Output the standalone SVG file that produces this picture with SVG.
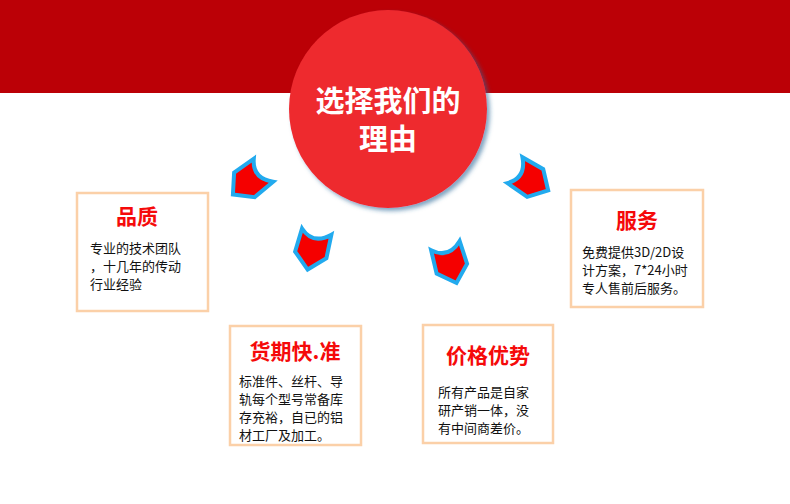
<svg xmlns="http://www.w3.org/2000/svg" width="790" height="504" viewBox="0 0 790 504">
<style>
.box{fill:#fff;stroke:#fbd0a8;stroke-width:2.5}
.ttl{font-family:"Noto Sans CJK SC","Liberation Sans",sans-serif;font-size:21px;font-weight:bold;fill:#f50a0a}
.body{font-family:"Noto Sans CJK SC","Liberation Sans",sans-serif;font-size:13px;fill:#111}
.sh{fill:#f50000;stroke:#22aaee;stroke-width:4;stroke-linejoin:miter}
</style>
<defs>
<path id="shield" d="M-14,-18 Q0,-4 16,-18 L16,6 L0,21 L-16,6 Z"/>
<filter id="ds" x="-20%" y="-20%" width="140%" height="140%"><feDropShadow dx="3" dy="3" stdDeviation="2" flood-color="#2a6a9a" flood-opacity="0.6"/></filter>
</defs>
<rect x="0" y="0" width="790" height="504" fill="#fff"/>
<rect x="0" y="0" width="790" height="93" fill="#bb0006"/>
<g id="center">
<circle cx="388" cy="109" r="99" fill="#ee2a2e" filter="url(#ds)"/>
<text x="388" y="112" text-anchor="middle" font-family="Noto Sans CJK SC,sans-serif" font-size="29" font-weight="bold" fill="#fff">选择我们的</text>
<text x="388" y="150" text-anchor="middle" font-family="Noto Sans CJK SC,sans-serif" font-size="29" font-weight="bold" fill="#fff">理由</text>
</g>
<g id="connectors">
<use href="#shield" class="sh" transform="translate(249,181) rotate(50)"/>
<use href="#shield" class="sh" transform="translate(312,249) rotate(12)"/>
<use href="#shield" class="sh" transform="translate(450,263) rotate(-18)"/>
<use href="#shield" class="sh" transform="translate(530,180) rotate(-60)"/>
</g>
<g id="n1">
<rect class="box" x="77" y="193" width="131" height="118"/>
<text class="ttl" x="137" y="224" text-anchor="middle">品质</text>
<text class="body" x="90" y="253">专业的技术团队</text>
<text class="body" x="90" y="271">，十几年的传动</text>
<text class="body" x="90" y="289">行业经验</text>
</g>
<g id="n2">
<rect class="box" x="230" y="326" width="131" height="119"/>
<text class="ttl" x="295" y="359" text-anchor="middle">货期快.准</text>
<text class="body" x="239" y="386">标准件、丝杆、导</text>
<text class="body" x="239" y="404">轨每个型号常备库</text>
<text class="body" x="239" y="422">存充裕，自已的铝</text>
<text class="body" x="239" y="440">材工厂及加工。</text>
</g>
<g id="n3">
<rect class="box" x="423" y="325" width="130" height="118"/>
<text class="ttl" x="488" y="363" text-anchor="middle">价格优势</text>
<text class="body" x="438" y="397">所有产品是自家</text>
<text class="body" x="438" y="415">研产销一体，没</text>
<text class="body" x="438" y="433">有中间商差价。</text>
</g>
<g id="n4">
<rect class="box" x="571" y="190" width="132" height="117"/>
<text class="ttl" x="637" y="228" text-anchor="middle">服务</text>
<text class="body" x="582" y="257">免费提供3D/2D设</text>
<text class="body" x="582" y="275">计方案，7*24小时</text>
<text class="body" x="582" y="293">专人售前后服务。</text>
</g>
</svg>
